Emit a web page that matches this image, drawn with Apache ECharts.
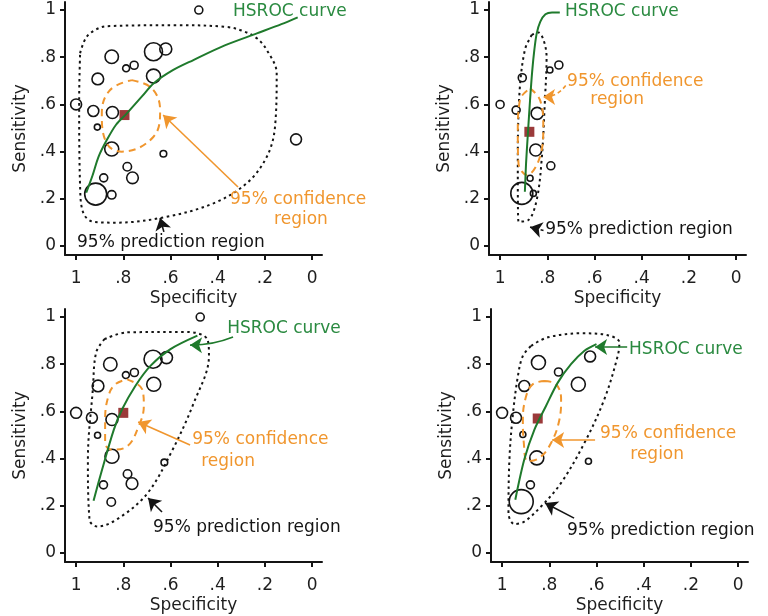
<!DOCTYPE html>
<html><head><meta charset="utf-8">
<script src="https://cdn.jsdelivr.net/npm/echarts@6/dist/echarts.min.js"></script>
<style>html,body{margin:0;padding:0;background:#fff}#c{width:768px;height:616px}</style>
</head><body><div id="c"></div>
<script>
// ---------- axis ticks ----------
const tickValues = [0, 0.2, 0.4, 0.6, 0.8, 1];
const tickLabels = ['0', '.2', '.4', '.6', '.8', '1'];
const xTitle = 'Specificity';
const yTitle = 'Sensitivity';

// ---------- Panel A (top-left) ----------
const specA   = [0.48, 0.849, 0.672, 0.62, 0.788, 0.754, 0.672, 0.908, 1.0, 0.927, 0.846, 0.91, 0.849, 0.63, 0.783, 0.761, 0.883, 0.917, 0.849, 0.068];
const sensA   = [1.0, 0.802, 0.823, 0.835, 0.753, 0.766, 0.72, 0.708, 0.6, 0.572, 0.566, 0.504, 0.411, 0.391, 0.336, 0.289, 0.289, 0.22, 0.217, 0.452];
const weightA = [16, 45, 81, 36, 12, 16, 49, 34, 30, 30, 36, 9, 49, 11, 18, 34, 16, 121, 18, 30];
const summaryA = [0.795, 0.555];
const hsrocA = [[0.957,0.226],[0.93,0.3],[0.905,0.378],[0.87,0.449],[0.83,0.515],[0.785,0.562],[0.72,0.635],[0.672,0.689],[0.59,0.745],[0.503,0.788],[0.37,0.85],[0.234,0.901],[0.13,0.94],[0.061,0.969]];
const confA = [[0.764,0.703],[0.679,0.668],[0.644,0.576],[0.672,0.463],[0.806,0.4],[0.87,0.435],[0.891,0.562],[0.856,0.661],[0.764,0.703]];
const predA = [[0.983,0.817],[0.955,0.887],[0.9,0.925],[0.856,0.932],[0.573,0.936],[0.36,0.928],[0.29,0.91],[0.234,0.88],[0.192,0.831],[0.15,0.732],[0.157,0.506],[0.192,0.378],[0.277,0.266],[0.418,0.181],[0.616,0.124],[0.828,0.099],[0.927,0.103],[0.969,0.139],[0.983,0.251],[0.987,0.619],[0.983,0.817]];

// ---------- Panel B (top-right) ----------
const specB   = [1.0, 0.932, 0.906, 0.843, 0.849, 0.785, 0.751, 0.789, 0.908, 0.873, 0.859];
const sensB   = [0.6, 0.576, 0.713, 0.562, 0.407, 0.34, 0.767, 0.746, 0.223, 0.287, 0.223];
const weightB = [16, 16, 16, 36, 36, 16, 16, 9, 121, 9, 9];
const summaryB = [0.876, 0.484];
const hsrocB = [[0.895,0.23],[0.89,0.35],[0.882,0.48],[0.873,0.619],[0.864,0.74],[0.855,0.83],[0.845,0.9],[0.83,0.95],[0.808,0.982],[0.78,0.99],[0.747,0.99]];
const confB = [[0.873,0.668],[0.831,0.619],[0.817,0.506],[0.831,0.378],[0.886,0.301],[0.922,0.35],[0.925,0.477],[0.916,0.619],[0.873,0.668]];
const predB = [[0.866,0.894],[0.838,0.905],[0.815,0.87],[0.803,0.8],[0.81,0.619],[0.824,0.364],[0.845,0.195],[0.88,0.11],[0.922,0.103],[0.925,0.336],[0.918,0.647],[0.895,0.831],[0.866,0.894]];

// ---------- Panel C (bottom-left) ----------
const specC   = [0.474, 0.855, 0.674, 0.617, 0.789, 0.753, 0.671, 0.907, 1.0, 0.933, 0.848, 0.909, 0.848, 0.626, 0.782, 0.763, 0.884, 0.851];
const sensC   = [1.0, 0.8, 0.821, 0.828, 0.754, 0.765, 0.715, 0.708, 0.594, 0.573, 0.566, 0.499, 0.41, 0.384, 0.335, 0.294, 0.289, 0.216];
const weightC = [16, 45, 81, 36, 12, 16, 49, 34, 30, 30, 36, 9, 49, 11, 18, 34, 16, 18];
const summaryC = [0.8, 0.594];
const hsrocC = [[0.926,0.222],[0.89,0.353],[0.84,0.523],[0.805,0.609],[0.749,0.708],[0.685,0.793],[0.6,0.864],[0.486,0.921]];
const confC = [[0.784,0.736],[0.72,0.694],[0.713,0.623],[0.735,0.537],[0.784,0.452],[0.848,0.438],[0.877,0.467],[0.877,0.566],[0.863,0.665],[0.834,0.715],[0.784,0.736]];
const predC = [[0.88,0.906],[0.784,0.935],[0.529,0.937],[0.444,0.906],[0.437,0.835],[0.501,0.637],[0.598,0.424],[0.697,0.254],[0.81,0.154],[0.909,0.112],[0.943,0.14],[0.95,0.396],[0.929,0.694],[0.915,0.85],[0.88,0.906]];

// ---------- Panel D (bottom-right) ----------
const specD   = [1.0, 0.941, 0.912, 0.906, 0.846, 0.761, 0.677, 0.627, 0.853, 0.634, 0.88, 0.919];
const sensD   = [0.594, 0.573, 0.502, 0.708, 0.807, 0.767, 0.715, 0.833, 0.403, 0.389, 0.289, 0.218];
const weightD = [30, 30, 9, 30, 49, 16, 49, 30, 49, 9, 16, 144];
const summaryD = [0.849, 0.57];
const hsrocD = [[0.944,0.226],[0.906,0.396],[0.863,0.523],[0.814,0.623],[0.764,0.722],[0.708,0.8],[0.651,0.857],[0.6,0.885]];
const confD = [[0.821,0.729],[0.771,0.715],[0.75,0.651],[0.757,0.566],[0.792,0.467],[0.842,0.403],[0.891,0.389],[0.908,0.467],[0.912,0.566],[0.898,0.665],[0.87,0.715],[0.821,0.729]];
const predD = [[0.877,0.878],[0.806,0.914],[0.665,0.931],[0.552,0.923],[0.503,0.892],[0.51,0.835],[0.567,0.651],[0.651,0.467],[0.75,0.297],[0.835,0.197],[0.906,0.133],[0.948,0.123],[0.973,0.169],[0.969,0.396],[0.955,0.58],[0.933,0.75],[0.912,0.835],[0.877,0.878]];

// ---------- annotation texts ----------
const txtHsroc = 'HSROC curve';
const txtConf1 = '95% confidence';
const txtConf2 = 'region';
const txtPred = '95% prediction region';

// ---------- styles / layout ----------
const GREEN = '#1f7a2c', GREEN_T = '#2a8a40', ORANGE = '#f0962e', DARK = '#141414', SUMM = '#9b3a3a';
const FONT = 'DejaVu Sans';
const FS = 17;
const xRange = [-0.042, 1.047], yRange = [-0.038, 1.034];
const gridPos = [
  { left: 65, top: 2 }, { left: 489, top: 2 },
  { left: 65, top: 309 }, { left: 491, top: 309 }
];
const panels = [
  { spec: specA, sens: sensA, w: weightA, summ: summaryA, hsroc: hsrocA, conf: confA, pred: predA,
    texts: [
      { t: txtHsroc, at: [0.335, 0.992], c: GREEN_T, pos: 'right' },
      { t: txtConf1, at: [0.059, 0.195], c: ORANGE, pos: 'inside' },
      { t: txtConf2, at: [0.047, 0.11], c: ORANGE, pos: 'inside' },
      { t: txtPred, at: [0.996, 0.013], c: DARK, pos: 'right' }],
    arrows: [
      { from: [0.314, 0.25], to: [0.631, 0.555], c: ORANGE, type: 'solid', curv: 0 },
      { from: [0.628, 0.06], to: [0.644, 0.119], c: DARK, type: 'solid', curv: 0 }] },
  { spec: specB, sens: sensB, w: weightB, summ: summaryB, hsroc: hsrocB, conf: confB, pred: predB,
    texts: [
      { t: txtHsroc, at: [0.725, 0.992], c: GREEN_T, pos: 'right' },
      { t: txtConf1, at: [0.716, 0.695], c: ORANGE, pos: 'right' },
      { t: txtConf2, at: [0.504, 0.619], c: ORANGE, pos: 'inside' },
      { t: txtPred, at: [0.809, 0.068], c: DARK, pos: 'right' }],
    arrows: [
      { from: [0.722, 0.68], to: [0.818, 0.631], c: ORANGE, type: [4, 3], curv: 0.25 },
      { from: [0.816, 0.066], to: [0.873, 0.08], c: DARK, type: [3, 3], curv: 0 }] },
  { spec: specC, sens: sensC, w: weightC, summ: summaryC, hsroc: hsrocC, conf: confC, pred: predC,
    texts: [
      { t: txtHsroc, at: [0.36, 0.953], c: GREEN_T, pos: 'right' },
      { t: txtConf1, at: [0.508, 0.479], c: ORANGE, pos: 'right' },
      { t: txtConf2, at: [0.356, 0.386], c: ORANGE, pos: 'inside' },
      { t: txtPred, at: [0.674, 0.106], c: DARK, pos: 'right' }],
    arrows: [
      { from: [0.335, 0.915], to: [0.517, 0.881], c: GREEN, type: 'solid', curv: 0.1 },
      { from: [0.517, 0.458], to: [0.737, 0.555], c: ORANGE, type: 'solid', curv: 0 },
      { from: [0.636, 0.174], to: [0.695, 0.233], c: DARK, type: 'solid', curv: 0 }] },
  { spec: specD, sens: sensD, w: weightD, summ: summaryD, hsroc: hsrocD, conf: confD, pred: predD,
    texts: [
      { t: txtHsroc, at: [0.462, 0.86], c: GREEN_T, pos: 'right' },
      { t: txtConf1, at: [0.585, 0.508], c: ORANGE, pos: 'right' },
      { t: txtConf2, at: [0.343, 0.419], c: ORANGE, pos: 'inside' },
      { t: txtPred, at: [0.725, 0.097], c: DARK, pos: 'right' }],
    arrows: [
      { from: [0.47, 0.873], to: [0.606, 0.873], c: GREEN, type: 'solid', curv: 0 },
      { from: [0.606, 0.479], to: [0.788, 0.479], c: ORANGE, type: 'solid', curv: 0 },
      { from: [0.695, 0.148], to: [0.818, 0.212], c: DARK, type: 'solid', curv: 0 }] }
];

function tickFmt(v) {
  const i = tickValues.findIndex(t => Math.abs(t - v) < 1e-6);
  return i >= 0 ? tickLabels[i] : '';
}

const grid = [], xAxis = [], yAxis = [], series = [];
panels.forEach((p, i) => {
  grid.push({ left: gridPos[i].left, top: gridPos[i].top, width: 257, height: 253 });
  const axisCommon = {
    type: 'value', gridIndex: i,
    axisLine: { show: true, onZero: false, lineStyle: { color: DARK, width: 2 } },
    axisTick: { show: true, customValues: tickValues, length: 5, lineStyle: { color: DARK, width: 2 } },
    axisLabel: { customValues: tickValues, formatter: tickFmt, fontSize: FS, fontFamily: FONT, color: '#1e1e1e' },
    splitLine: { show: false },
    nameLocation: 'middle',
    nameTextStyle: { fontSize: FS, fontFamily: FONT, color: '#1e1e1e' }
  };
  xAxis.push(Object.assign({}, axisCommon, {
    inverse: true, min: xRange[0], max: xRange[1], name: xTitle, nameGap: 35,
    axisLabel: Object.assign({}, axisCommon.axisLabel, { margin: 15 })
  }));
  yAxis.push(Object.assign({}, axisCommon, {
    min: yRange[0], max: yRange[1], name: yTitle, nameGap: 36,
    axisLabel: Object.assign({}, axisCommon.axisLabel, { margin: 9 })
  }));
  const ax = { xAxisIndex: i, yAxisIndex: i };
  series.push(Object.assign({
    type: 'scatter', silent: true, z: 3,
    data: p.spec.map((s, k) => [s, p.sens[k], p.w[k]]),
    symbol: 'circle',
    symbolSize: d => 2 * Math.sqrt(d[2]),
    itemStyle: { color: 'rgba(0,0,0,0)', borderColor: DARK, borderWidth: 1.6, opacity: 1 }
  }, ax));
  series.push(Object.assign({
    type: 'scatter', silent: true, z: 4, data: [p.summ], symbol: 'rect', symbolSize: 10,
    itemStyle: { color: SUMM, opacity: 1 }
  }, ax));
  series.push(Object.assign({
    type: 'line', silent: true, z: 4, data: p.pred, smooth: 0.35, symbol: 'none',
    lineStyle: { color: DARK, width: 2, type: [2.5, 3.5] }
  }, ax));
  series.push(Object.assign({
    type: 'line', silent: true, z: 5, data: p.conf, smooth: 0.4, symbol: 'none',
    lineStyle: { color: ORANGE, width: 2, type: [7, 5] }
  }, ax));
  series.push(Object.assign({
    type: 'line', silent: true, z: 6, data: p.hsroc, smooth: 0.3, symbol: 'none',
    lineStyle: { color: GREEN, width: 2 }
  }, ax));
  series.push(Object.assign({
    type: 'lines', coordinateSystem: 'cartesian2d', silent: true, z: 7,
    symbol: ['none', 'arrow'], symbolSize: 12,
    data: p.arrows.map(a => ({ coords: [a.from, a.to], lineStyle: { color: a.c, type: a.type, width: 1.6, curveness: a.curv, opacity: 1 } }))
  }, ax));
  series.push(Object.assign({
    type: 'scatter', silent: true, z: 8, symbolSize: 0,
    itemStyle: { opacity: 1 },
    data: p.texts.map(t => ({
      value: t.at,
      label: { show: true, formatter: t.t, position: t.pos, distance: 0, color: t.c, fontSize: FS, fontFamily: FONT, opacity: 1 }
    }))
  }, ax));
});

const chart = echarts.init(document.getElementById('c'), null, { renderer: 'canvas' });
chart.setOption({ animation: false, backgroundColor: '#fff', grid, xAxis, yAxis, series });
</script></body></html>
